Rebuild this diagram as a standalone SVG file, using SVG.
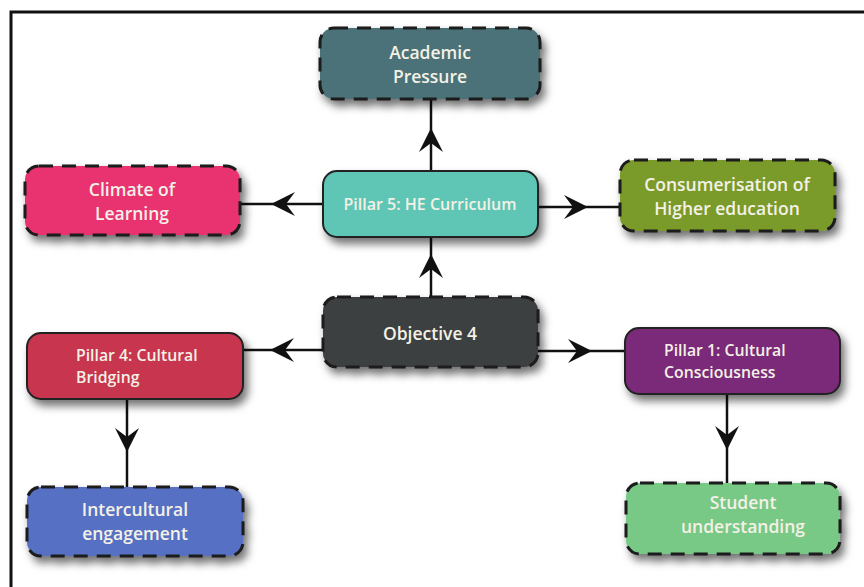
<svg xmlns="http://www.w3.org/2000/svg" width="864" height="587" viewBox="0 0 864 587">
<style>
  .box { stroke: #1c1c1c; stroke-width: 3; }
  .dash { stroke-dasharray: 14 9; }
  .solid { stroke: #222; stroke-width: 2; }
  .lbl { font-family: "Open Sans", "Liberation Sans", sans-serif; font-weight: 600; font-size: 17.5px; fill: #f4f1e6; text-anchor: middle; }
  .lbl2 { font-family: "Open Sans", "Liberation Sans", sans-serif; font-weight: 600; font-size: 15.8px; fill: #f4f1e6; }
  .con { stroke: #111; stroke-width: 2.5; fill: none; marker-mid: url(#arr); }
</style>
<defs>
  <filter id="sh" x="-20%" y="-30%" width="150%" height="180%">
    <feDropShadow dx="4" dy="6" stdDeviation="4" flood-color="#000" flood-opacity="0.55"/>
  </filter>
  <marker id="arr" viewBox="0 0 26 24" markerUnits="userSpaceOnUse" markerWidth="26" markerHeight="24" refX="22" refY="12" orient="auto">
    <path d="M24 12 L0 0 L9 12 L0 24 Z" fill="#111"/>
  </marker>
</defs>
<rect width="864" height="587" fill="#ffffff"/>
<path d="M11 587 V12 H864" fill="none" stroke="#111" stroke-width="3"/>

<g id="connectors">
  <path class="con" d="M431 171 L431 130 L431 99"/>
  <path class="con" d="M323 204 L273 204 L240 204"/>
  <path class="con" d="M538 207 L586 207 L620 207"/>
  <path class="con" d="M431 297 L431 256 L431 237"/>
  <path class="con" d="M323 350 L272 350 L243 350"/>
  <path class="con" d="M538 351 L590 351 L625 351"/>
  <path class="con" d="M127 399 L127 450 L127 487"/>
  <path class="con" d="M727 394 L727 448 L727 483"/>
</g>

<g id="academic-pressure">
  <rect x="320" y="28" width="220" height="71" rx="14" fill="#4b7278" class="box dash" filter="url(#sh)"/>
  <text class="lbl" x="430" y="59">Academic</text>
  <text class="lbl" x="430" y="83">Pressure</text>
</g>

<g id="pillar5">
  <rect x="323" y="171" width="215" height="66" rx="14" fill="#5ec6b5" class="solid" filter="url(#sh)"/>
  <text class="lbl" x="430" y="210" style="font-size:16px">Pillar 5: HE Curriculum</text>
</g>

<g id="climate">
  <rect x="25" y="166" width="215" height="69" rx="14" fill="#e9306f" class="box dash" filter="url(#sh)"/>
  <text class="lbl" x="132" y="196">Climate of</text>
  <text class="lbl" x="132" y="220">Learning</text>
</g>

<g id="consumerisation">
  <rect x="620" y="160" width="215" height="71" rx="14" fill="#7a9a2b" class="box dash" filter="url(#sh)"/>
  <text class="lbl" x="727" y="191">Consumerisation of</text>
  <text class="lbl" x="727" y="215">Higher education</text>
</g>

<g id="objective4">
  <rect x="323" y="297" width="215" height="70" rx="14" fill="#3e3f41" class="box dash" filter="url(#sh)"/>
  <text class="lbl" x="430" y="340">Objective 4</text>
</g>

<g id="pillar4">
  <rect x="27" y="333" width="216" height="66" rx="14" fill="#c7344f" class="solid" filter="url(#sh)"/>
  <text class="lbl2" x="76" y="361">Pillar 4: Cultural</text>
  <text class="lbl2" x="76" y="383">Bridging</text>
</g>

<g id="pillar1">
  <rect x="625" y="328" width="215" height="66" rx="14" fill="#7a2a78" class="solid" filter="url(#sh)"/>
  <text class="lbl2" x="664" y="356">Pillar 1: Cultural</text>
  <text class="lbl2" x="664" y="378">Consciousness</text>
</g>

<g id="intercultural">
  <rect x="27" y="487" width="216" height="69" rx="14" fill="#5670c3" class="box dash" filter="url(#sh)"/>
  <text class="lbl" x="135" y="516">Intercultural</text>
  <text class="lbl" x="135" y="540">engagement</text>
</g>

<g id="student">
  <rect x="626" y="483" width="214" height="71" rx="14" fill="#78c886" class="box dash" filter="url(#sh)"/>
  <text class="lbl" x="743" y="509">Student</text>
  <text class="lbl" x="743" y="533">understanding</text>
</g>
</svg>
